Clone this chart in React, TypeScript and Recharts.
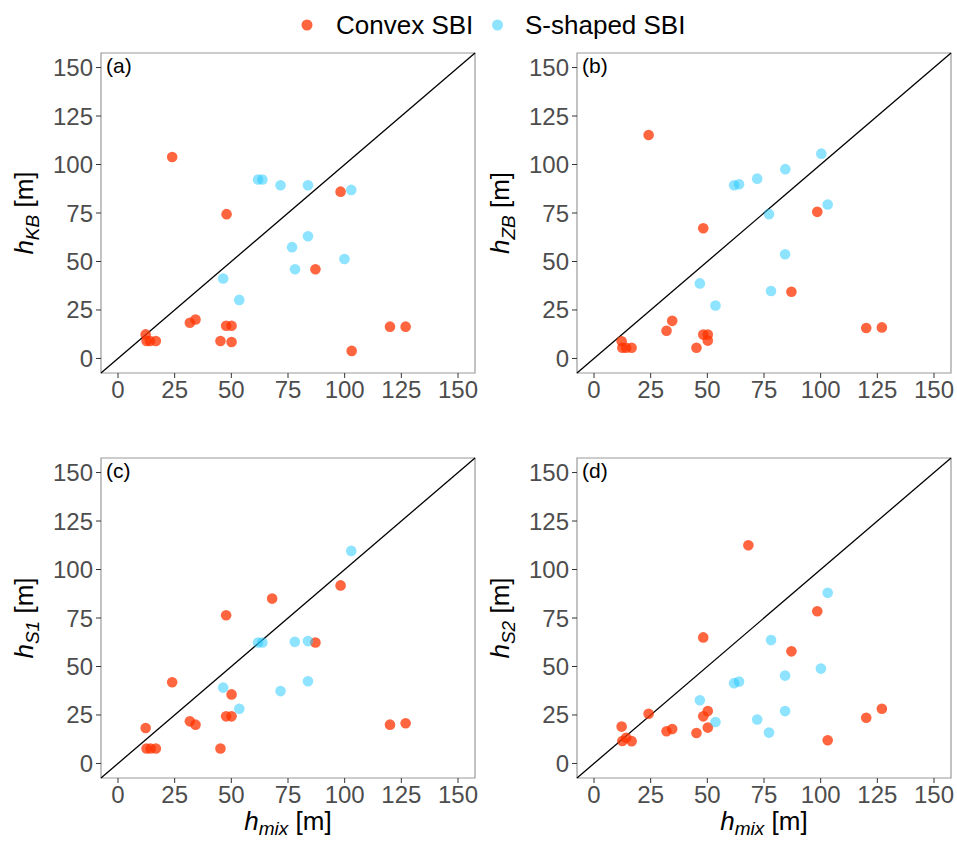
import React from 'react';
import { ScatterChart, Scatter, XAxis, YAxis, ReferenceLine, ReferenceArea } from 'recharts';

// h_mix vs. SBI height estimates
const convexKB = [
  { x: 23.9, y: 103.9 }, { x: 47.9, y: 74.4 }, { x: 98.2, y: 86.0 }, { x: 87.1, y: 46.0 },
  { x: 31.7, y: 18.4 }, { x: 34.2, y: 20.1 }, { x: 47.7, y: 16.9 }, { x: 50.1, y: 16.9 },
  { x: 45.2, y: 9.0 }, { x: 50.1, y: 8.5 }, { x: 12.2, y: 12.4 }, { x: 12.6, y: 9.0 },
  { x: 14.1, y: 9.0 }, { x: 16.7, y: 9.0 }, { x: 120.0, y: 16.4 }, { x: 126.9, y: 16.4 },
  { x: 103.1, y: 3.9 },
];
const sshapedKB = [
  { x: 61.8, y: 92.3 }, { x: 63.7, y: 92.3 }, { x: 71.7, y: 89.3 }, { x: 83.8, y: 89.3 },
  { x: 102.9, y: 86.9 }, { x: 83.8, y: 63.0 }, { x: 76.8, y: 57.4 }, { x: 78.1, y: 46.0 },
  { x: 99.9, y: 51.3 }, { x: 46.4, y: 41.2 }, { x: 53.5, y: 30.2 },
];

const convexZB = [
  { x: 24.1, y: 115.2 }, { x: 48.2, y: 67.1 }, { x: 98.5, y: 75.6 }, { x: 87.1, y: 34.4 },
  { x: 32.0, y: 14.3 }, { x: 34.5, y: 19.4 }, { x: 48.2, y: 12.3 }, { x: 50.2, y: 12.3 },
  { x: 50.2, y: 9.2 }, { x: 45.2, y: 5.5 }, { x: 12.2, y: 8.9 }, { x: 12.5, y: 5.5 },
  { x: 14.2, y: 5.5 }, { x: 16.6, y: 5.5 }, { x: 120.1, y: 15.7 }, { x: 127.0, y: 16.0 },
];
const sshapedZB = [
  { x: 100.3, y: 105.6 }, { x: 84.4, y: 97.6 }, { x: 72.0, y: 92.7 }, { x: 61.8, y: 89.3 },
  { x: 64.0, y: 89.8 }, { x: 77.2, y: 74.4 }, { x: 103.1, y: 79.4 }, { x: 84.3, y: 53.7 },
  { x: 78.1, y: 34.8 }, { x: 46.7, y: 38.7 }, { x: 53.6, y: 27.3 },
];

const convexS1 = [
  { x: 12.2, y: 18.3 }, { x: 12.6, y: 7.7 }, { x: 14.4, y: 7.7 }, { x: 16.7, y: 7.7 },
  { x: 23.9, y: 41.9 }, { x: 31.7, y: 21.7 }, { x: 34.2, y: 20.0 }, { x: 45.2, y: 7.7 },
  { x: 47.7, y: 76.4 }, { x: 47.7, y: 24.3 }, { x: 50.1, y: 24.3 }, { x: 50.1, y: 35.6 },
  { x: 68.0, y: 85.0 }, { x: 87.1, y: 62.4 }, { x: 98.2, y: 91.8 }, { x: 120.0, y: 20.0 },
  { x: 126.9, y: 20.7 },
];
const sshapedS1 = [
  { x: 102.9, y: 109.6 }, { x: 61.8, y: 62.4 }, { x: 63.7, y: 62.4 }, { x: 78.0, y: 62.7 },
  { x: 83.8, y: 63.1 }, { x: 83.8, y: 42.4 }, { x: 71.7, y: 37.3 }, { x: 46.4, y: 39.1 },
  { x: 53.5, y: 28.2 },
];

const convexS2 = [
  { x: 68.1, y: 112.5 }, { x: 48.2, y: 65.0 }, { x: 98.5, y: 78.5 }, { x: 87.1, y: 57.8 },
  { x: 24.1, y: 25.6 }, { x: 32.0, y: 16.6 }, { x: 34.5, y: 17.8 }, { x: 45.2, y: 15.7 },
  { x: 48.2, y: 24.3 }, { x: 50.2, y: 27.0 }, { x: 50.2, y: 18.5 }, { x: 12.2, y: 19.0 },
  { x: 12.5, y: 11.6 }, { x: 14.2, y: 13.2 }, { x: 16.6, y: 11.5 }, { x: 120.1, y: 23.6 },
  { x: 127.0, y: 28.2 }, { x: 103.1, y: 12.0 },
];
const sshapedS2 = [
  { x: 103.1, y: 88.0 }, { x: 78.1, y: 63.6 }, { x: 100.1, y: 48.9 }, { x: 84.3, y: 45.3 },
  { x: 61.8, y: 41.4 }, { x: 64.0, y: 42.2 }, { x: 46.7, y: 32.6 }, { x: 53.6, y: 21.4 },
  { x: 72.0, y: 22.7 }, { x: 84.3, y: 27.0 }, { x: 77.2, y: 15.9 },
];

const ticks = [0, 25, 50, 75, 100, 125, 150];
const lim: [number, number] = [-7.5, 157.5];
const seriesNames = ['Convex SBI', 'S-shaped SBI'];

const FONT = '"Liberation Sans", Arial, sans-serif';
const ORANGE = '#FF3300';
const BLUE = '#1EC8FF';

const dot = (color: string, op: number) => (p: any) =>
  <circle cx={p.cx} cy={p.cy} r={5.3} fill={color} fillOpacity={op} />;

const YTitle = ({ sub }: { sub: string }) => (
  <text x={33} y={213} transform="rotate(-90, 33, 213)" textAnchor="middle"
    fontFamily={FONT} fontSize={26} fill="#000">
    <tspan fontStyle="italic">h</tspan>
    <tspan fontStyle="italic" fontSize={19} dy={6}>{sub}</tspan>
    <tspan dy={-6}> [m]</tspan>
  </text>
);

const XTitle = () => (
  <text x={288} y={425} textAnchor="middle" fontFamily={FONT} fontSize={26} fill="#000">
    <tspan fontStyle="italic">h</tspan>
    <tspan fontStyle="italic" fontSize={19} dy={5}>mix</tspan>
    <tspan dy={-5}> [m]</tspan>
  </text>
);

const Panel = ({ left, top, tag, sub, convex, sshaped, showX }: any) => (
  <div style={{ position: 'absolute', left, top }}>
    <ScatterChart width={480} height={showX ? 436 : 405} margin={{ top: 53, right: 5, bottom: 0, left: 0 }}>
      <XAxis type="number" dataKey="x" domain={lim} ticks={ticks} allowDataOverflow
        axisLine={false} tickLine={{ stroke: '#333' }} tickSize={5} tickMargin={3}
        tick={{ fill: '#4D4D4D', fontSize: 24, fontFamily: FONT }}
        height={showX ? 63 : 32} label={showX ? <XTitle /> : undefined} />
      <YAxis type="number" dataKey="y" domain={lim} ticks={ticks} allowDataOverflow
        axisLine={false} tickLine={{ stroke: '#333' }} tickSize={5} tickMargin={3}
        tick={{ fill: '#4D4D4D', fontSize: 24, fontFamily: FONT }}
        width={101} label={<YTitle sub={sub} />} />
      <ReferenceArea x1={lim[0]} x2={lim[1]} y1={lim[0]} y2={lim[1]} fill="none" fillOpacity={0}
        stroke="#9a9a9a" strokeWidth={1.2} ifOverflow="visible"
        label={{ value: tag, position: 'insideTopLeft', offset: 5, fontSize: 21, fill: '#000', fontFamily: FONT }} />
      <Scatter name={seriesNames[0]} data={convex} shape={dot(ORANGE, 0.75)} isAnimationActive={false} />
      <Scatter name={seriesNames[1]} data={sshaped} shape={dot(BLUE, 0.5)} isAnimationActive={false} />
      <ReferenceLine segment={[{ x: lim[0], y: lim[0] }, { x: lim[1], y: lim[1] }]}
        stroke="#000" strokeWidth={1.3} ifOverflow="visible" />
    </ScatterChart>
  </div>
);

export default function App() {
  return (
    <div style={{ position: 'absolute', left: 0, top: 0, width: 957, height: 841, background: '#fff' }}>
      <svg width={957} height={50} style={{ position: 'absolute', left: 0, top: 0 }}>
        <circle cx={307} cy={25} r={5.5} fill={ORANGE} fillOpacity={0.75} />
        <text x={336} y={34} fontFamily={FONT} fontSize={26} fill="#000">{seriesNames[0]}</text>
        <circle cx={497.5} cy={25} r={5.5} fill={BLUE} fillOpacity={0.5} />
        <text x={525} y={34} fontFamily={FONT} fontSize={26} fill="#000">{seriesNames[1]}</text>
      </svg>
      <Panel left={0} top={0} tag="(a)" sub="KB" convex={convexKB} sshaped={sshapedKB} />
      <Panel left={476} top={0} tag="(b)" sub="ZB" convex={convexZB} sshaped={sshapedZB} />
      <Panel left={0} top={405} tag="(c)" sub="S1" convex={convexS1} sshaped={sshapedS1} showX />
      <Panel left={476} top={405} tag="(d)" sub="S2" convex={convexS2} sshaped={sshapedS2} showX />
    </div>
  );
}
